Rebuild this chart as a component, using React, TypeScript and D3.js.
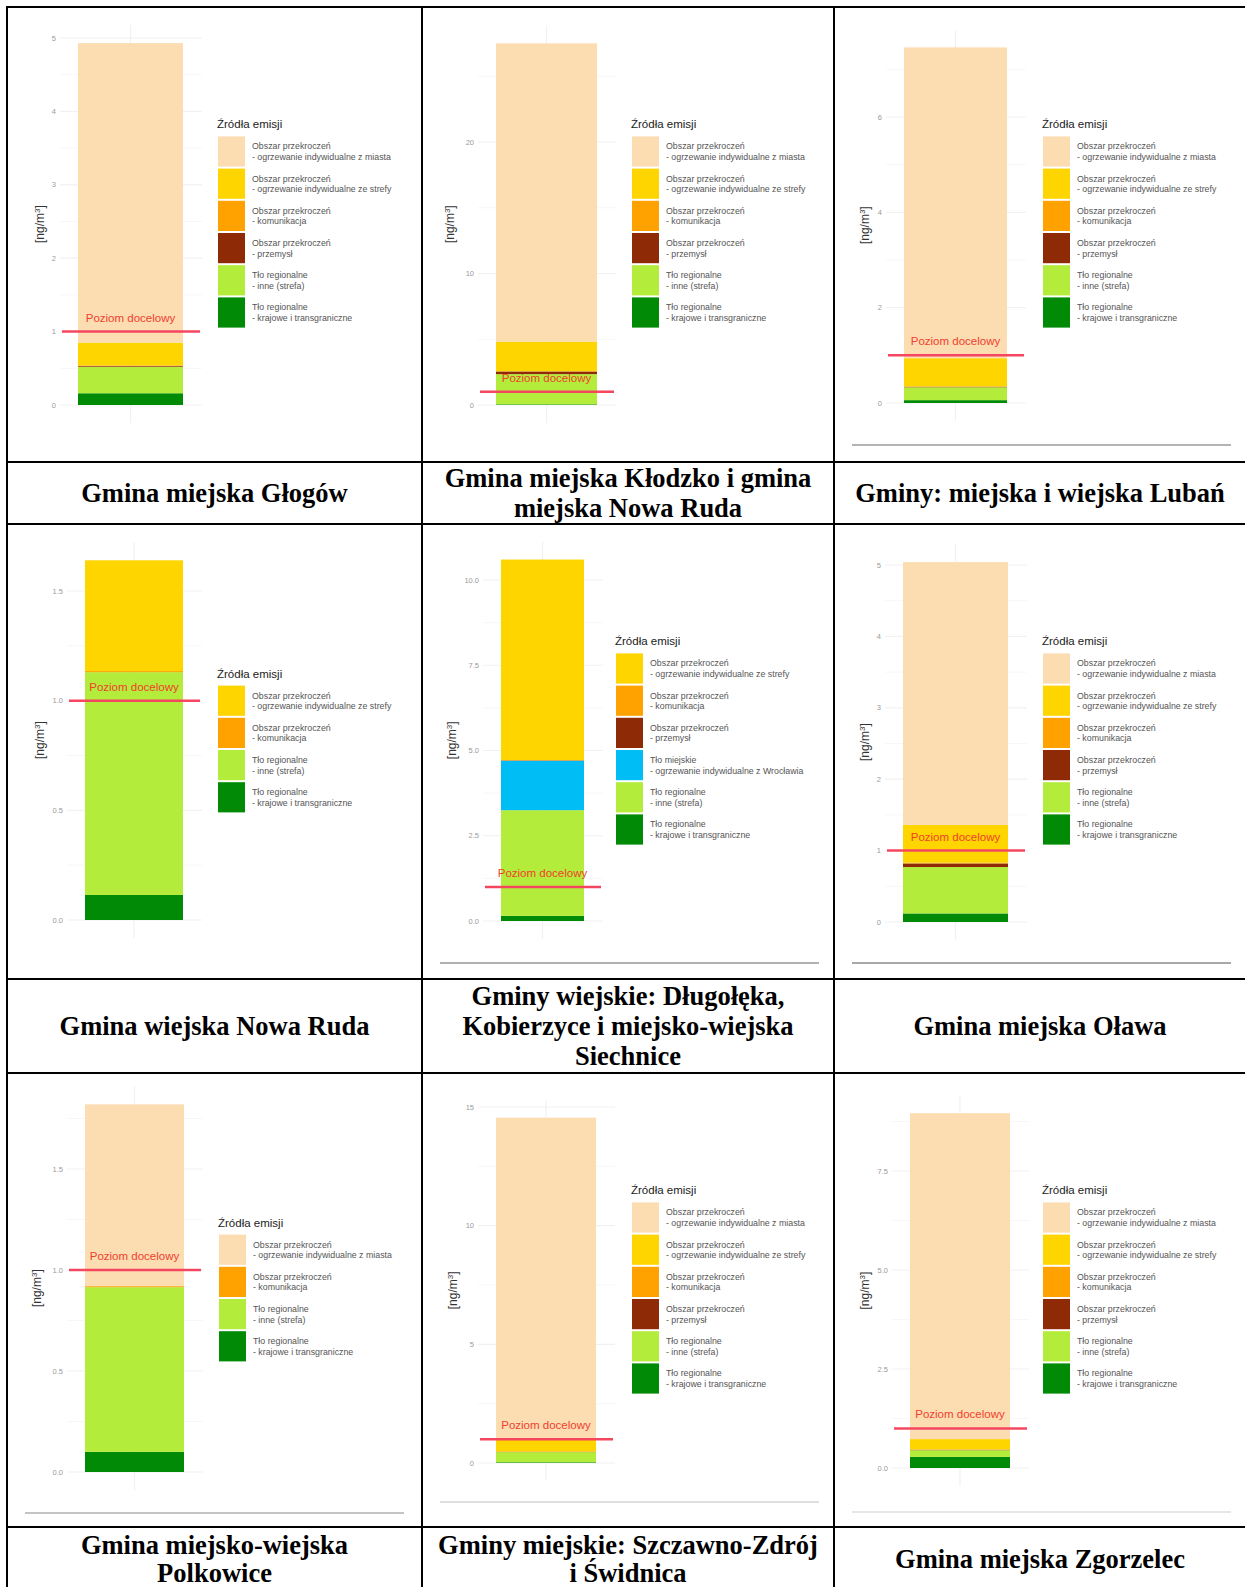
import { useEffect, useRef } from "react";
import * as d3 from "d3";

const W = 1245;
const H = 1587;
const TARGET = 1; // poziom docelowy B(a)P [ng/m3]

// legend labels and colours of emission sources
const SOURCE_LABELS: Record<string, string[]> = {
  miasto: ["Obszar przekroczeń", "- ogrzewanie indywidualne z miasta"],
  strefa: ["Obszar przekroczeń", "- ogrzewanie indywidualne ze strefy"],
  komunikacja: ["Obszar przekroczeń", "- komunikacja"],
  przemysl: ["Obszar przekroczeń", "- przemysł"],
  miejskie: ["Tło miejskie", "- ogrzewanie indywidualne z Wrocławia"],
  inne: ["Tło regionalne", "- inne (strefa)"],
  krajowe: ["Tło regionalne", "- krajowe i transgraniczne"],
};
const SOURCE_COLORS: Record<string, string> = {
  miasto: "#fcdcb1",
  strefa: "#ffd500",
  komunikacja: "#ffa200",
  przemysl: "#8f2a06",
  miejskie: "#00bdf5",
  inne: "#b3ec3a",
  krajowe: "#008a06",
};

// sources are listed bottom -> top of the bar
const glogowSources = ["krajowe", "inne", "przemysl", "komunikacja", "strefa", "miasto"];
const glogowValues = [0.16, 0.36, 0.01, 0.01, 0.31, 4.08];
const glogowTicks = [0, 1, 2, 3, 4, 5];

const klodzkoSources = ["krajowe", "inne", "przemysl", "komunikacja", "strefa", "miasto"];
const klodzkoValues = [0.05, 2.3, 0.2, 0.02, 2.25, 22.68];
const klodzkoTicks = [0, 10, 20];

const lubanSources = ["krajowe", "inne", "przemysl", "komunikacja", "strefa", "miasto"];
const lubanValues = [0.06, 0.27, 0.01, 0.01, 0.59, 6.52];
const lubanTicks = [0, 2, 4, 6];

const nowaRudaSources = ["krajowe", "inne", "komunikacja", "strefa"];
const nowaRudaValues = [0.114, 1.016, 0.005, 0.505];
const nowaRudaTicks = [0, 0.5, 1, 1.5];

const dlugolekaSources = ["krajowe", "inne", "miejskie", "przemysl", "komunikacja", "strefa"];
const dlugolekaValues = [0.15, 3.1, 1.45, 0.01, 0.01, 5.88];
const dlugolekaTicks = [0, 2.5, 5, 7.5, 10];

const olawaSources = ["krajowe", "inne", "przemysl", "komunikacja", "strefa", "miasto"];
const olawaValues = [0.12, 0.65, 0.05, 0.01, 0.53, 3.68];
const olawaTicks = [0, 1, 2, 3, 4, 5];

const polkowiceSources = ["krajowe", "inne", "komunikacja", "miasto"];
const polkowiceValues = [0.1, 0.815, 0.005, 0.9];
const polkowiceTicks = [0, 0.5, 1, 1.5];

const swidnicaSources = ["krajowe", "inne", "przemysl", "komunikacja", "strefa", "miasto"];
const swidnicaValues = [0.03, 0.43, 0.01, 0.02, 0.5, 13.56];
const swidnicaTicks = [0, 5, 10, 15];

const zgorzelecSources = ["krajowe", "inne", "przemysl", "komunikacja", "strefa", "miasto"];
const zgorzelecValues = [0.28, 0.17, 0.01, 0.01, 0.26, 8.23];
const zgorzelecTicks = [0, 2.5, 5, 7.5];

const captions = [
  ["Gmina miejska Głogów"],
  ["Gmina miejska Kłodzko i gmina", "miejska Nowa Ruda"],
  ["Gminy: miejska i wiejska Lubań"],
  ["Gmina wiejska Nowa Ruda"],
  ["Gminy wiejskie: Długołęka,", "Kobierzyce i miejsko-wiejska", "Siechnice"],
  ["Gmina miejska Oława"],
  ["Gmina miejsko-wiejska", "Polkowice"],
  ["Gminy miejskie: Szczawno-Zdrój", "i Świdnica"],
  ["Gmina miejska Zgorzelec"],
];

// table grid
const COL_X = [7, 422, 834, 1246];
const ROW_LINES = [7, 462, 524, 979, 1073, 1527];
const CHART_TOP = [7, 524, 1073];
const CAPTION_MID = [493, 1026, 1559];
const CAPTION_LEADING = [30, 30, 28.5];

interface Chart {
  sources: string[];
  values: number[];
  ticks: number[];
  fmt: string;
  zeroY: number;
  topTickY: number;
  barX0: number;
  barX1: number;
  legendX: number;
  ylabX: number;
  bottomLine?: { y: number; color: string };
}

const CHARTS: Chart[] = [
  { sources: glogowSources, values: glogowValues, ticks: glogowTicks, fmt: "d", zeroY: 398, topTickY: 31, barX0: 71, barX1: 176, legendX: 211, ylabX: 33 },
  { sources: klodzkoSources, values: klodzkoValues, ticks: klodzkoTicks, fmt: "d", zeroY: 398, topTickY: 135, barX0: 74, barX1: 175, legendX: 210, ylabX: 28 },
  { sources: lubanSources, values: lubanValues, ticks: lubanTicks, fmt: "d", zeroY: 396, topTickY: 110, barX0: 70, barX1: 173, legendX: 209, ylabX: 31, bottomLine: { y: 438, color: "#b4b4b4" } },
  { sources: nowaRudaSources, values: nowaRudaValues, ticks: nowaRudaTicks, fmt: ".1f", zeroY: 396, topTickY: 67, barX0: 78, barX1: 176, legendX: 211, ylabX: 33 },
  { sources: dlugolekaSources, values: dlugolekaValues, ticks: dlugolekaTicks, fmt: ".1f", zeroY: 397, topTickY: 56, barX0: 79, barX1: 162, legendX: 194, ylabX: 30, bottomLine: { y: 439, color: "#b0b0b0" } },
  { sources: olawaSources, values: olawaValues, ticks: olawaTicks, fmt: "d", zeroY: 398, topTickY: 41, barX0: 69, barX1: 174, legendX: 209, ylabX: 31, bottomLine: { y: 439, color: "#a8a8a8" } },
  { sources: polkowiceSources, values: polkowiceValues, ticks: polkowiceTicks, fmt: ".1f", zeroY: 399, topTickY: 96, barX0: 78, barX1: 177, legendX: 212, ylabX: 30, bottomLine: { y: 440, color: "#c4c4c4" } },
  { sources: swidnicaSources, values: swidnicaValues, ticks: swidnicaTicks, fmt: "d", zeroY: 390, topTickY: 34, barX0: 74, barX1: 174, legendX: 210, ylabX: 31, bottomLine: { y: 429, color: "#dedede" } },
  { sources: zgorzelecSources, values: zgorzelecValues, ticks: zgorzelecTicks, fmt: ".1f", zeroY: 395, topTickY: 98, barX0: 76, barX1: 176, legendX: 209, ylabX: 31, bottomLine: { y: 439, color: "#e6e6e6" } },
];

const SANS = "'Liberation Sans', Arial, sans-serif";

function drawChart(svg: d3.Selection<SVGSVGElement, unknown, null, undefined>, c: Chart, i: number) {
  const col = i % 3;
  const row = Math.floor(i / 3);
  const g = svg.append("g").attr("transform", `translate(${COL_X[col]},${CHART_TOP[row]})`);

  const maxTick = c.ticks[c.ticks.length - 1];
  const y = d3.scaleLinear().domain([0, maxTick]).range([c.zeroY, c.topTickY]);
  const x = d3.scaleBand().domain(["bar"]).range([c.barX0, c.barX1]);
  const total = d3.sum(c.values);
  const panelL = c.barX0 - 18;
  const panelR = c.barX1 + 19;
  const panelTop = y(total * 1.05);
  const panelBottom = y(-total * 0.05);
  const xc = (x("bar") as number) + x.bandwidth() / 2;

  // grid
  const step = c.ticks[1] - c.ticks[0];
  const minor = d3.range(step / 2, total * 1.05, step);
  g.selectAll("line.minor")
    .data(minor)
    .join("line")
    .attr("x1", panelL)
    .attr("x2", panelR)
    .attr("y1", (d) => y(d))
    .attr("y2", (d) => y(d))
    .attr("stroke", "#f7f7f7")
    .attr("stroke-width", 1);
  g.selectAll("line.major")
    .data(c.ticks)
    .join("line")
    .attr("x1", panelL)
    .attr("x2", panelR)
    .attr("y1", (d) => y(d))
    .attr("y2", (d) => y(d))
    .attr("stroke", "#f1f1f1")
    .attr("stroke-width", 1.2);
  g.append("line")
    .attr("x1", xc)
    .attr("x2", xc)
    .attr("y1", panelTop)
    .attr("y2", panelBottom)
    .attr("stroke", "#f1f1f1")
    .attr("stroke-width", 1.2);

  // stacked bar
  const rowData: Record<string, number> = {};
  c.sources.forEach((k, j) => (rowData[k] = c.values[j]));
  const series = d3.stack<Record<string, number>>().keys(c.sources)([rowData]);
  g.selectAll("rect.seg")
    .data(series)
    .join("rect")
    .attr("x", x("bar") as number)
    .attr("width", x.bandwidth())
    .attr("y", (s) => y(s[0][1]))
    .attr("height", (s) => y(s[0][0]) - y(s[0][1]))
    .attr("fill", (s) => SOURCE_COLORS[s.key]);

  // tick labels
  const fmt = d3.format(c.fmt);
  g.selectAll("text.tick")
    .data(c.ticks)
    .join("text")
    .attr("x", c.barX0 - 22)
    .attr("y", (d) => y(d))
    .attr("dy", "0.35em")
    .attr("text-anchor", "end")
    .attr("font-family", SANS)
    .attr("font-size", 7.5)
    .attr("fill", "#9a9a9a")
    .text((d) => fmt(d));

  // axis title
  const ym = (panelTop + panelBottom) / 2;
  const yl = g
    .append("text")
    .attr("transform", `translate(${c.ylabX},${ym}) rotate(-90)`)
    .attr("text-anchor", "middle")
    .attr("dy", "0.35em")
    .attr("font-family", SANS)
    .attr("font-size", 12)
    .attr("fill", "#333");
  yl.append("tspan").text("[ng/m");
  yl.append("tspan").attr("font-size", 8).attr("baseline-shift", "super").text("3");
  yl.append("tspan").text("]");

  // target level
  g.append("line")
    .attr("x1", c.barX0 - 16)
    .attr("x2", c.barX1 + 17)
    .attr("y1", y(TARGET))
    .attr("y2", y(TARGET))
    .attr("stroke", "#f4475f")
    .attr("stroke-width", 2.5);
  g.append("text")
    .attr("x", xc)
    .attr("y", y(TARGET) - 10)
    .attr("text-anchor", "middle")
    .attr("font-family", SANS)
    .attr("font-size", 11.5)
    .attr("fill", "#ef3f2f")
    .text("Poziom docelowy");

  // legend
  const legendKeys = c.sources.slice().reverse();
  const pitch = 32.2;
  const lh = 18 + legendKeys.length * pitch;
  const top = 217 - lh / 2;
  const lg = g.append("g").attr("transform", `translate(${c.legendX},${top})`);
  lg.append("text")
    .attr("x", -1)
    .attr("y", 6)
    .attr("dy", "0.35em")
    .attr("font-family", SANS)
    .attr("font-size", 11.5)
    .attr("fill", "#222")
    .text("Źródła emisji");
  const items = lg
    .selectAll("g.item")
    .data(legendKeys)
    .join("g")
    .attr("transform", (_, k) => `translate(0,${18 + k * pitch})`);
  items
    .append("rect")
    .attr("width", 27)
    .attr("height", pitch - 2)
    .attr("fill", (k) => SOURCE_COLORS[k]);
  items
    .selectAll("text")
    .data((k) => SOURCE_LABELS[k])
    .join("text")
    .attr("x", 34)
    .attr("y", (_, j) => 10 + j * 10.5)
    .attr("dy", "0.35em")
    .attr("font-family", SANS)
    .attr("font-size", 8.8)
    .attr("fill", "#555")
    .text((d) => d);

  if (c.bottomLine) {
    g.append("line")
      .attr("x1", 18)
      .attr("x2", 397)
      .attr("y1", c.bottomLine.y)
      .attr("y2", c.bottomLine.y)
      .attr("stroke", c.bottomLine.color)
      .attr("stroke-width", 2);
  }
}

export default function App() {
  const svgRef = useRef<SVGSVGElement>(null);

  useEffect(() => {
    if (!svgRef.current) return;
    const svg = d3.select(svgRef.current);
    svg.selectAll("*").remove();

    svg.append("rect").attr("width", W).attr("height", H).attr("fill", "#fff");

    CHARTS.forEach((c, i) => drawChart(svg, c, i));

    // captions
    captions.forEach((lines, i) => {
      const col = i % 3;
      const row = Math.floor(i / 3);
      const cx = (COL_X[col] + COL_X[col + 1]) / 2;
      svg
        .append("g")
        .selectAll("text")
        .data(lines)
        .join("text")
        .attr("x", cx)
        .attr("y", (_, k) => CAPTION_MID[row] + 9 + (k - (lines.length - 1) / 2) * CAPTION_LEADING[row])
        .attr("text-anchor", "middle")
        .attr("font-family", "'Liberation Serif', 'Times New Roman', serif")
        .attr("font-weight", "bold")
        .attr("font-size", 26.5)
        .attr("fill", "#000")
        .text((d) => d);
    });

    // table borders
    svg
      .selectAll("line.hrow")
      .data(ROW_LINES)
      .join("line")
      .attr("x1", COL_X[0] - 1)
      .attr("x2", W + 5)
      .attr("y1", (d) => d)
      .attr("y2", (d) => d)
      .attr("stroke", "#000")
      .attr("stroke-width", 2);
    svg
      .selectAll("line.vcol")
      .data(COL_X)
      .join("line")
      .attr("x1", (d) => d)
      .attr("x2", (d) => d)
      .attr("y1", ROW_LINES[0])
      .attr("y2", H + 5)
      .attr("stroke", "#000")
      .attr("stroke-width", 2);
  }, []);

  return (
    <svg
      ref={svgRef}
      width={W}
      height={H}
      viewBox={`0 0 ${W} ${H}`}
      style={{ position: "absolute", left: 0, top: 0, display: "block" }}
    ></svg>
  );
}
